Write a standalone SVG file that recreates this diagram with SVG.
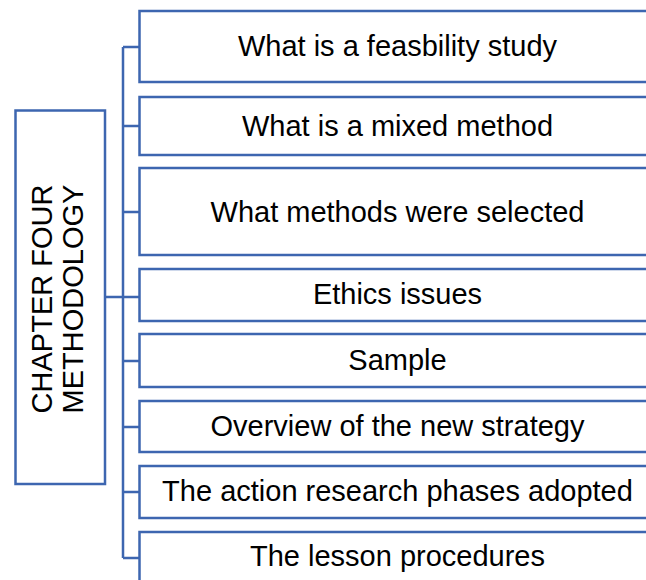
<svg xmlns="http://www.w3.org/2000/svg" width="646" height="580" viewBox="0 0 646 580">
  <style>
    .box { fill: #ffffff; stroke: #3D66B0; stroke-width: 2.5; }
    .conn { fill: none; stroke: #3D66B0; stroke-width: 2.5; }
    .lbl { font-family: "Liberation Sans", Arial, sans-serif; font-size: 29px; fill: #000000; text-anchor: middle; }
  </style>
  <rect width="646" height="580" fill="#ffffff"/>
  <g id="connectors">
    <path class="conn" d="M105,297 H123 M123,47 V558 M123,47 H139.5 M123,126 H139.5 M123,212 H139.5 M123,297 H139.5 M123,361 H139.5 M123,427 H139.5 M123,492 H139.5 M123,558 H139.5"/>
  </g>
  <g id="root">
    <rect class="box" x="15.5" y="110.5" width="89.5" height="373.5"/>
    <text class="lbl" transform="translate(52,299) rotate(-90)">CHAPTER FOUR</text>
    <text class="lbl" transform="translate(83,299) rotate(-90)">METHODOLOGY</text>
  </g>
  <g id="n1">
    <rect class="box" x="139.5" y="11" width="517" height="71"/>
    <text class="lbl" x="397.5" y="56">What is a feasbility study</text>
  </g>
  <g id="n2">
    <rect class="box" x="139.5" y="97" width="517" height="58"/>
    <text class="lbl" x="397.5" y="136">What is a mixed method</text>
  </g>
  <g id="n3">
    <rect class="box" x="139.5" y="168" width="517" height="87"/>
    <text class="lbl" x="397.5" y="221.5">What methods were selected</text>
  </g>
  <g id="n4">
    <rect class="box" x="139.5" y="269" width="517" height="52"/>
    <text class="lbl" x="397.5" y="304">Ethics issues</text>
  </g>
  <g id="n5">
    <rect class="box" x="139.5" y="334" width="517" height="53"/>
    <text class="lbl" x="397.5" y="370">Sample</text>
  </g>
  <g id="n6">
    <rect class="box" x="139.5" y="401" width="517" height="51"/>
    <text class="lbl" x="397.5" y="436">Overview of the new strategy</text>
  </g>
  <g id="n7">
    <rect class="box" x="139.5" y="466" width="517" height="52"/>
    <text class="lbl" x="397.5" y="501">The action research phases adopted</text>
  </g>
  <g id="n8">
    <rect class="box" x="139.5" y="532" width="517" height="52"/>
    <text class="lbl" x="397.5" y="566">The lesson procedures</text>
  </g>
</svg>
